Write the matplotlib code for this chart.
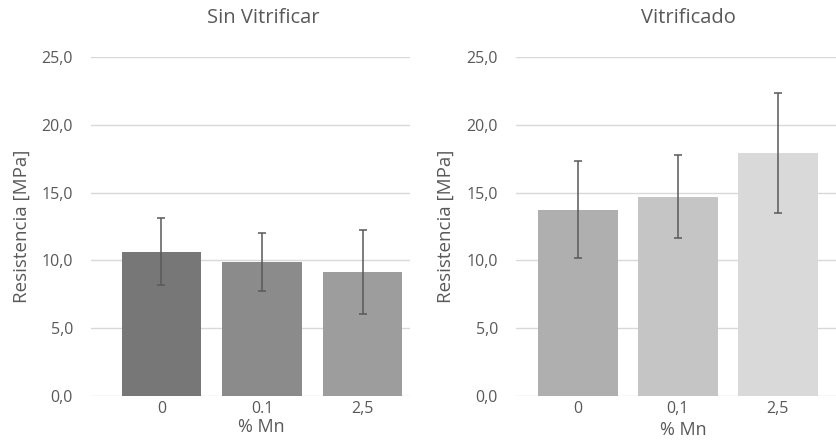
import matplotlib
matplotlib.use("Agg")
import matplotlib.pyplot as plt
import numpy as np

plt.rcParams['font.family'] = ['Open Sans', 'DejaVu Sans']

titles = ["Sin Vitrificar", "Vitrificado"]
tick_labels_left = ["0", "0.1", "2,5"]
tick_labels_right = ["0", "0,1", "2,5"]
values_left = [10.65, 9.9, 9.15]
errors_left = [2.45, 2.15, 3.12]
values_right = [13.75, 14.7, 17.95]
errors_right = [3.6, 3.07, 4.43]
colors_left = ["#777777", "#8b8b8b", "#9d9d9d"]
colors_right = ["#afafaf", "#c5c5c5", "#d9d9d9"]
yticks = [0, 5, 10, 15, 20, 25]
ytick_labels = ["0,0", "5,0", "10,0", "15,0", "20,0", "25,0"]

W, H = 837, 442
fig = plt.figure(figsize=(W / 100, H / 100), dpi=100)

txt = "#595959"


def panel(rect, xlim, bw, title, labels, vals, errs, cols,
          title_xy, xlabel_xy, ylabel_xy):
    ax = fig.add_axes(rect)
    x = np.arange(len(vals))
    ax.bar(x, vals, width=bw, color=cols, zorder=2)
    ax.errorbar(x, vals, yerr=errs, fmt='none', ecolor="#595959",
                elinewidth=1.1, capsize=3.2, capthick=1.1, zorder=3)
    ax.set_xlim(*xlim)
    ax.set_ylim(0, 25)
    ax.set_yticks(yticks)
    ax.set_yticklabels(ytick_labels, color=txt, fontsize=11.5)
    ax.set_xticks(x)
    ax.set_xticklabels(labels, color=txt, fontsize=11.5)
    ax.tick_params(axis='x', length=0, pad=3.5)
    ax.tick_params(axis='y', length=0, pad=13)
    ax.grid(axis='y', color="#d9d9d9", linewidth=1.0, zorder=0)
    for s in ax.spines.values():
        s.set_visible(False)
    fig.text(title_xy[0] / W, 1 - title_xy[1] / H, title, color=txt,
             fontsize=14.5, ha='center', va='center')
    fig.text(xlabel_xy[0] / W, 1 - xlabel_xy[1] / H, "% Mn", color=txt,
             fontsize=13, ha='center', va='center')
    fig.text(ylabel_xy[0] / W, 1 - ylabel_xy[1] / H, "Resistencia [MPa]",
             color=txt, fontsize=13.5, ha='center', va='center', rotation=90)
    return ax


b = 1 - 396 / H
t = 1 - 57 / H
panel([91 / W, b, (410 - 91) / W, t - b], (-0.70, 2.47), 0.79,
      titles[0], tick_labels_left, values_left, errors_left, colors_left,
      (263, 18), (261, 427), (22, 226.5))
panel([516 / W, b, (836.7 - 516) / W, t - b], (-0.62, 2.59), 0.80,
      titles[1], tick_labels_right, values_right, errors_right, colors_right,
      (688, 18), (683, 430), (446, 226.5))

fig.savefig("out.png", dpi=100)
